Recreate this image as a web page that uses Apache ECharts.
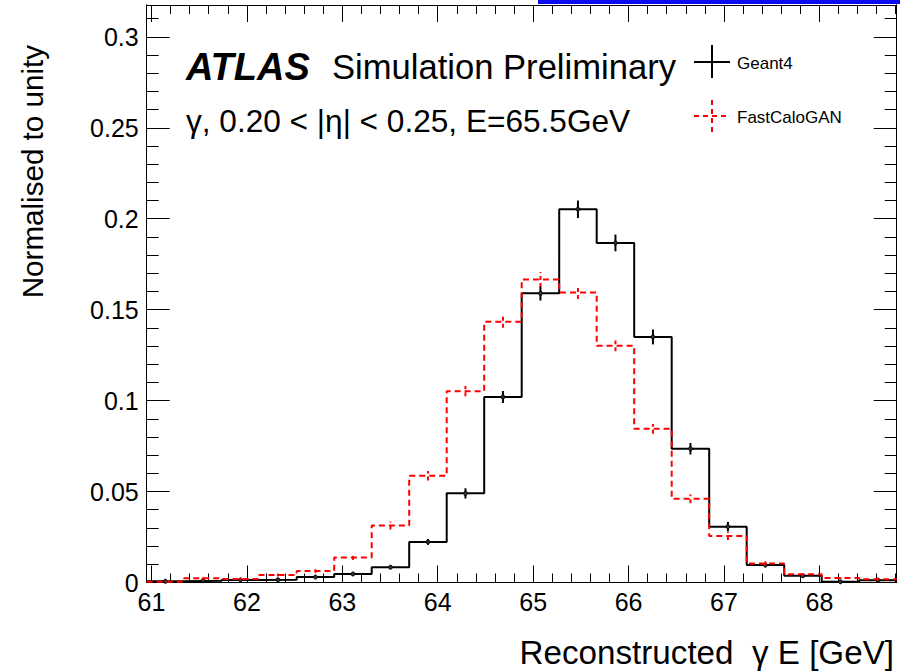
<!DOCTYPE html>
<html><head><meta charset="utf-8">
<script src="https://cdn.jsdelivr.net/npm/echarts@6/dist/echarts.min.js"></script>
<style>html,body{margin:0;padding:0;background:#fff}#c{width:900px;height:671px}</style>
</head><body><div id="c"></div>
<script>
// ---- data ----
const binEdges = [60.950, 61.343, 61.736, 62.129, 62.522, 62.915, 63.308, 63.701, 64.094, 64.487,
                  64.880, 65.273, 65.666, 66.059, 66.452, 66.845, 67.238, 67.631, 68.024, 68.417, 68.810];
const geant4 = [0.0007, 0.0010, 0.0014, 0.0015, 0.0030, 0.0047, 0.0084, 0.0223, 0.0490, 0.1020,
                0.1590, 0.2052, 0.1867, 0.1350, 0.0735, 0.0307, 0.0096, 0.0037, 0.0004, 0.0013];
const geant4Err = [0.0003, 0.0003, 0.0004, 0.0004, 0.0006, 0.0007, 0.0010, 0.0016, 0.0028, 0.0033,
                   0.0040, 0.0048, 0.0046, 0.0041, 0.0032, 0.0026, 0.0012, 0.0008, 0.0003, 0.0004];
const fastCaloGAN = [0.0004, 0.0023, 0.0019, 0.0041, 0.0063, 0.0138, 0.0314, 0.0587, 0.1052, 0.1433,
                     0.1666, 0.1595, 0.1301, 0.0845, 0.0460, 0.0255, 0.0105, 0.0045, 0.0025, 0.0018];
const fastCaloGANErr = [0.0002, 0.0006, 0.0005, 0.0008, 0.0010, 0.0014, 0.0022, 0.0026, 0.0028, 0.0032,
                        0.0041, 0.0037, 0.0030, 0.0027, 0.0024, 0.0022, 0.0011, 0.0007, 0.0005, 0.0005];
const xTickLabels = [61, 62, 63, 64, 65, 66, 67, 68];
const yTickLabels = [0, 0.05, 0.1, 0.15, 0.2, 0.25, 0.3];
const yMax = 0.3175;

// ---- derived structures ----
function histPoints(vals) {
  const pts = vals.map((v, i) => [binEdges[i], v]);
  pts.push([binEdges[binEdges.length - 1], vals[vals.length - 1]]);
  return pts;
}
function errPoints(vals, errs) {
  return vals.map((v, i) => [(binEdges[i] + binEdges[i + 1]) / 2, v, errs[i]]);
}
const xMinor = [];
for (let k = 0; k <= 40; k++) { const v = +(61 + k * 0.2).toFixed(2); if (v < binEdges[20]) xMinor.push(v); }
const yMinor = [];
for (let k = 0; k <= 31; k++) { yMinor.push(+(k * 0.01).toFixed(2)); }

const FONT = "'Liberation Sans', Arial, Helvetica, sans-serif";
const BLACK = '#000';

function xAx(pos, ticks, len, label) {
  return {
    type: 'value', position: pos, min: binEdges[0], max: binEdges[20],
    axisLine: { show: true, onZero: false, lineStyle: { color: BLACK, width: 1 } },
    axisTick: { show: true, inside: true, length: len, customValues: ticks, lineStyle: { color: BLACK, width: 1 } },
    axisLabel: label ? { show: true, customValues: ticks, fontSize: 25, fontFamily: FONT, color: BLACK, margin: 7,
                         formatter: v => String(v) } : { show: false },
    splitLine: { show: false }
  };
}
function yAx(pos, ticks, len, label) {
  return {
    type: 'value', position: pos, min: 0, max: yMax,
    axisLine: { show: true, onZero: false, lineStyle: { color: BLACK, width: 1 } },
    axisTick: { show: true, inside: true, length: len, customValues: ticks, lineStyle: { color: BLACK, width: 1 } },
    axisLabel: label ? { show: true, customValues: ticks, fontSize: 25, fontFamily: FONT, color: BLACK, margin: 8,
                         formatter: v => (v === 0 ? '0' : String(+v.toFixed(2))) } : { show: false },
    splitLine: { show: false }
  };
}

function errRender(color, dashed, marker) {
  return function (params, api) {
    const x = api.value(0), v = api.value(1), e = api.value(2);
    const p1 = api.coord([x, v - e]);
    const p2 = api.coord([x, v + e]);
    const pc = api.coord([x, v]);
    const children = [{
      type: 'line',
      shape: { x1: p1[0], y1: p1[1], x2: p2[0], y2: p2[1] },
      style: { stroke: color, lineWidth: 2, lineDash: dashed ? [4, 3] : null }
    }];
    if (marker) {
      children.push({ type: 'circle', shape: { cx: pc[0], cy: pc[1], r: 2 }, style: { fill: '#333', stroke: color, lineWidth: 1 } });
    }
    return { type: 'group', children: children };
  };
}

const chart = echarts.init(document.getElementById('c'), null, { renderer: 'svg', width: 900, height: 671 });
chart.setOption({
  animation: false,
  backgroundColor: '#fff',
  grid: { left: 146.7, right: 3.3, top: 5, bottom: 88.5, containLabel: false },
  xAxis: [
    xAx('bottom', xTickLabels, 17, true),
    xAx('bottom', xMinor, 9, false),
    xAx('top', xTickLabels, 17, false),
    xAx('top', xMinor, 9, false)
  ],
  yAxis: [
    yAx('left', yTickLabels, 23, true),
    yAx('left', yMinor, 12, false),
    yAx('right', yTickLabels, 23, false),
    yAx('right', yMinor, 12, false)
  ],
  series: [
    { name: 'Geant4', type: 'line', step: 'end', data: histPoints(geant4), showSymbol: false,
      lineStyle: { color: BLACK, width: 2 }, z: 3 },
    { name: 'Geant4 err', type: 'custom', data: errPoints(geant4, geant4Err),
      renderItem: errRender(BLACK, false, true), z: 4 },
    { name: 'FastCaloGAN', type: 'line', step: 'end', data: histPoints(fastCaloGAN), showSymbol: false,
      lineStyle: { color: '#ff0000', width: 2, type: [6, 4] }, z: 5 },
    { name: 'FastCaloGAN err', type: 'custom', data: errPoints(fastCaloGAN, fastCaloGANErr),
      renderItem: errRender('#ff0000', true, false), z: 6 }
  ],
  graphic: [
    { type: 'rect', shape: { x: 538, y: 0, width: 362, height: 4 }, style: { fill: '#0a0af0' }, z: 100 },
    { type: 'text', x: 186, y: 67, style: { text: 'ATLAS', font: "italic bold 38px " + FONT, fill: BLACK,
      textAlign: 'left', textVerticalAlign: 'middle' } },
    { type: 'text', x: 332, y: 67, style: { text: 'Simulation Preliminary', font: "34.6px " + FONT, fill: BLACK,
      textAlign: 'left', textVerticalAlign: 'middle' } },
    { type: 'text', x: 186, y: 121, style: { text: 'γ, 0.20 < |η| < 0.25, E=65.5GeV', font: "31.6px " + FONT, fill: BLACK,
      textAlign: 'left', textVerticalAlign: 'middle' } },
    { type: 'text', x: 32, y: 45, rotation: Math.PI / 2, style: { text: 'Normalised to unity', font: "29.6px " + FONT, fill: BLACK,
      textAlign: 'right', textVerticalAlign: 'middle' } },
    { type: 'text', x: 894, y: 652, style: { text: 'Reconstructed  γ E [GeV]', font: "33.2px " + FONT, fill: BLACK,
      textAlign: 'right', textVerticalAlign: 'middle' } },
    // legend
    { type: 'line', shape: { x1: 694, y1: 62, x2: 730, y2: 62 }, style: { stroke: BLACK, lineWidth: 2 } },
    { type: 'line', shape: { x1: 712, y1: 45, x2: 712, y2: 78 }, style: { stroke: BLACK, lineWidth: 2 } },
    { type: 'text', x: 737, y: 63, style: { text: 'Geant4', font: "17px " + FONT, fill: BLACK,
      textAlign: 'left', textVerticalAlign: 'middle' } },
    { type: 'line', shape: { x1: 694, y1: 116, x2: 730, y2: 116 }, style: { stroke: '#ff0000', lineWidth: 2, lineDash: [5, 4] } },
    { type: 'line', shape: { x1: 712, y1: 100, x2: 712, y2: 133 }, style: { stroke: '#ff0000', lineWidth: 2, lineDash: [5, 4] } },
    { type: 'text', x: 737, y: 117, style: { text: 'FastCaloGAN', font: "17px " + FONT, fill: BLACK,
      textAlign: 'left', textVerticalAlign: 'middle' } }
  ]
});
</script>
</body></html>
